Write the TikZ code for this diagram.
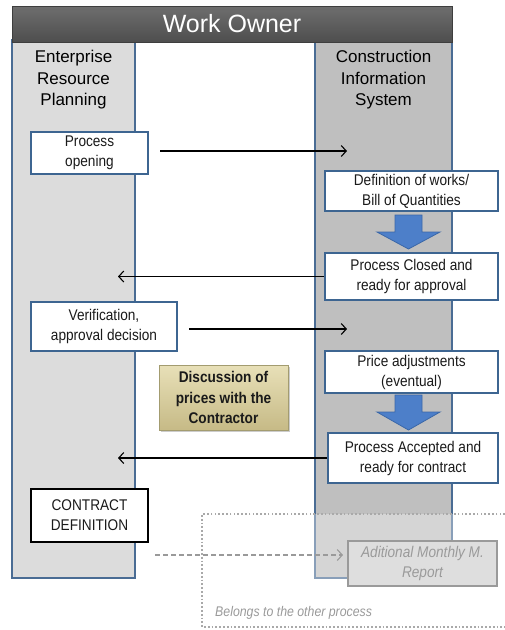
\documentclass[tikz,border=0pt]{standalone}
\usepackage{fontspec}
\setmainfont{Liberation Sans}
\newfontfamily\boxfont[FakeStretch=0.88]{Liberation Sans}
\usetikzlibrary{arrows.meta,shadows}

\definecolor{laneborder}{HTML}{4A6C94}
\definecolor{leftlane}{HTML}{DCDCDC}
\definecolor{rightlane}{HTML}{BFBFBF}
\definecolor{boxborder}{HTML}{3D6591}
\definecolor{bluefill}{HTML}{4D7FC9}
\definecolor{blueedge}{HTML}{3A67A8}
\definecolor{khakitop}{HTML}{E8E0B8}
\definecolor{khakibot}{HTML}{C6BA86}
\definecolor{khakiedge}{HTML}{A39C70}
\definecolor{headtop}{HTML}{6E6E6E}
\definecolor{headbot}{HTML}{4E4E4E}
\definecolor{textdark}{HTML}{1A1A1A}
\definecolor{ghost}{HTML}{9A9A9A}
\definecolor{ghostfill}{HTML}{DEDEDE}

\tikzset{
  lane/.style={draw=laneborder, line width=2pt},
  lanetitle/.style={font=\fontsize{17}{21.5}\selectfont, align=center, inner sep=0pt, text=black},
  proc/.style={draw=boxborder, line width=1.8pt, fill=white, inner sep=0pt, align=center,
    text=textdark, font=\boxfont\fontsize{15.5}{20}\selectfont},
  contract/.style={proc, draw=black, line width=2.6pt},
  discuss/.style={draw=khakiedge, line width=0.8pt, top color=khakitop, bottom color=khakibot,
    inner sep=0pt, align=center, text=textdark, font=\boxfont\bfseries\fontsize{15.5}{20.5}\selectfont,
    drop shadow={shadow xshift=1.5pt, shadow yshift=-2pt, opacity=0.4}},
  ghostbox/.style={draw=ghost, line width=1.6pt, fill=ghostfill, inner sep=0pt, align=center,
    text=ghost, font=\boxfont\itshape\fontsize{15.5}{20}\selectfont},
  flow/.style={line width=1.1pt, -{Straight Barb[length=5pt,width=11pt,line width=1.1pt]}},
  ghostflow/.style={ghost, line width=1.1pt, dash pattern=on 5pt off 3pt,
    -{Straight Barb[length=5pt,width=11pt,line width=1.1pt]}},
  blockarrow/.style={fill=bluefill, draw=blueedge, line width=0.8pt, line join=miter},
}

\begin{document}
\begin{tikzpicture}[x=1pt, y=-1pt]
\useasboundingbox (0,0) rectangle (505,630);

% swim lanes
\draw[lane, fill=leftlane] (12,40) rectangle (135,578);
\draw[lane, fill=rightlane] (315,40) rectangle (452,578);

% header bar
\node[draw=headbot!80!black, line width=1pt, top color=headtop, bottom color=headbot,
  minimum width=440pt, minimum height=36pt, inner sep=0pt, text=white,
  font=\fontsize{25}{28}\selectfont] (owner) at (232,24) {Work Owner};

% lane titles
\node[lanetitle] (erp) at (73.5,80) {Enterprise\\Resource\\Planning};
\node[lanetitle] (cis) at (383.5,80) {Construction\\Information\\System};

% process steps
\node[proc, minimum width=117pt, minimum height=42pt] (popen) at (89.5,153) {Process\\opening};
\node[proc, minimum width=173pt, minimum height=40pt] (defw) at (411.5,191) {Definition of works/\\Bill of Quantities};
\node[proc, minimum width=173pt, minimum height=47pt] (closed) at (411.5,276.5) {Process Closed and\\ready for approval};
\node[proc, minimum width=146pt, minimum height=49pt] (verif) at (104,326.5) {Verification,\\approval decision};
\node[proc, minimum width=173pt, minimum height=42pt] (price) at (411.5,372) {Price adjustments\\(eventual)};
\node[proc, minimum width=170pt, minimum height=50pt] (accept) at (413,458) {Process Accepted and\\ready for contract};
\node[discuss, minimum width=129pt, minimum height=65pt] (disc) at (223.5,397.5) {Discussion of\\prices with the\\Contractor};
\node[contract, minimum width=117pt, minimum height=53pt] (contr) at (89.5,515.5) {CONTRACT\\DEFINITION};

% block arrows inside the CIS lane
\filldraw[blockarrow] (395,215) -- (422,215) -- (422,232) -- (440,232) -- (408.5,249)
  -- (377,232) -- (395,232) -- cycle;
\filldraw[blockarrow] (395,395) -- (422,395) -- (422,412) -- (440,412) -- (408.5,430)
  -- (377,412) -- (395,412) -- cycle;

% free ends of the message arrows
\coordinate (m1s) at (160,151);
\coordinate (m1e) at (347,151);
\coordinate (m2e) at (118,276.5);
\coordinate (m3s) at (189,329);
\coordinate (m3e) at (347,329);
\coordinate (m4e) at (118,458);
\coordinate (m5s) at (155,555);
\coordinate (m5e) at (343,555);

\draw[flow] (m1s) -- (m1e);
\draw[flow] (closed.west) -- (m2e);
\draw[flow] (m3s) -- (m3e);
\draw[flow] (accept.west) -- (m4e);

% area that belongs to the other process
\fill[white, opacity=0.35] (202,514) rectangle (505,627);
\draw[ghost!85, line width=1.7pt, dash pattern=on 1.7pt off 2.1pt]
  (505,514) -| (202,627) -- (505,627);
\draw[ghostflow] (m5s) -- (m5e);
\node[ghostbox, minimum width=149pt, minimum height=45pt] (monthly) at (422.5,563.5) {Aditional Monthly M.\\Report};
\node[anchor=west, inner sep=0pt, text=ghost, font=\boxfont\itshape\fontsize{14}{16}\selectfont]
  (note) at (215,613) {Belongs to the other process};
\end{tikzpicture}
\end{document}
